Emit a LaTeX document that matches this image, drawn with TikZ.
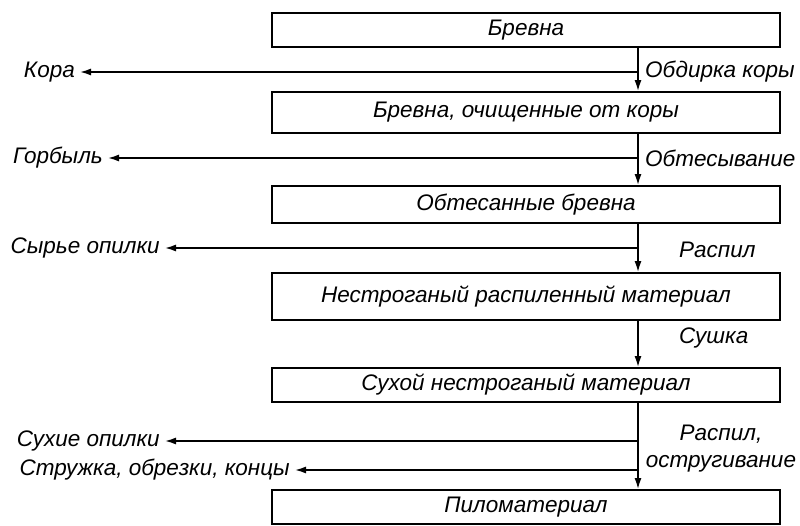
\documentclass[tikz,border=0pt]{standalone}
\usepackage{fontspec}
\setmainfont{Liberation Sans}
\usetikzlibrary{arrows.meta}

\tikzset{
	stage/.style={draw, line width=1.8pt, minimum width=508pt, inner sep=0pt, font=\itshape\fontsize{22.5}{25}\selectfont},
	lbl/.style={inner xsep=5pt, inner ysep=1pt, font=\itshape\fontsize{22.5}{27}\selectfont},
	flow/.style={-{Latex[length=11pt,width=7pt]}, line width=1.6pt}
}

\begin{document}
\begin{tikzpicture}[x=1pt,y=-1pt]
		
		\useasboundingbox (0,0) rectangle (800,526);
		
		%Stages
		\node[stage, minimum height=34pt] (logs) at (526,30) {Бревна};
		\node[stage, minimum height=41pt] (barked) at (526,112.5) {Бревна, очищенные от коры};
		\node[stage, minimum height=37pt] (hewn) at (526,204.5) {Обтесанные бревна};
		\node[stage, minimum height=47pt] (sawn) at (526,296.5) {Нестроганый распиленный материал};
		\node[stage, minimum height=34pt] (dried) at (526,385) {Сухой нестроганый материал};
		\node[stage, minimum height=34pt] (lumber) at (526,507) {Пиломатериал};
		
		%Main line
		\draw[flow] (logs.south -| 638,0) -- (barked.north -| 638,0);
		\draw[flow] (barked.south -| 638,0) -- (hewn.north -| 638,0);
		\draw[flow] (hewn.south -| 638,0) -- (sawn.north -| 638,0);
		\draw[flow] (sawn.south -| 638,0) -- (dried.north -| 638,0);
		\draw[flow] (dried.south -| 638,0) -- (lumber.north -| 638,0);
		
		%Operations
		\node[lbl, anchor=west] (op1) at (640,72) {Обдирка коры};
		\node[lbl, anchor=west] (op2) at (640,158) {Обтесывание};
		\node[lbl, anchor=west] (op3) at (674,250) {Распил};
		\node[lbl, anchor=west] (op4) at (674,338) {Сушка};
		\node[lbl, align=center] (op5) at (721,449) {Распил,\\остругивание};
		
		%Wastes
		\node[lbl, anchor=east] (bark) at (80,72) {Кора};
		\node[lbl, anchor=east] (slab) at (108,158) {Горбыль};
		\node[lbl, anchor=east] (wetdust) at (165,248) {Сырье опилки};
		\node[lbl, anchor=east] (drydust) at (165,441) {Сухие опилки};
		\node[lbl, anchor=east] (chips) at (295,470) {Стружка, обрезки, концы};
		
		\coordinate (b1) at (638,72);
		\coordinate (b2) at (638,158);
		\coordinate (b3) at (638,248);
		\coordinate (b4) at (638,441);
		\coordinate (b5) at (638,470);
		
		\draw[flow] (b1) -- (bark.east);
		\draw[flow] (b2) -- (slab.east);
		\draw[flow] (b3) -- (wetdust.east);
		\draw[flow] (b4) -- (drydust.east);
		\draw[flow] (b5) -- (chips.east);
		
\end{tikzpicture}
\end{document}
